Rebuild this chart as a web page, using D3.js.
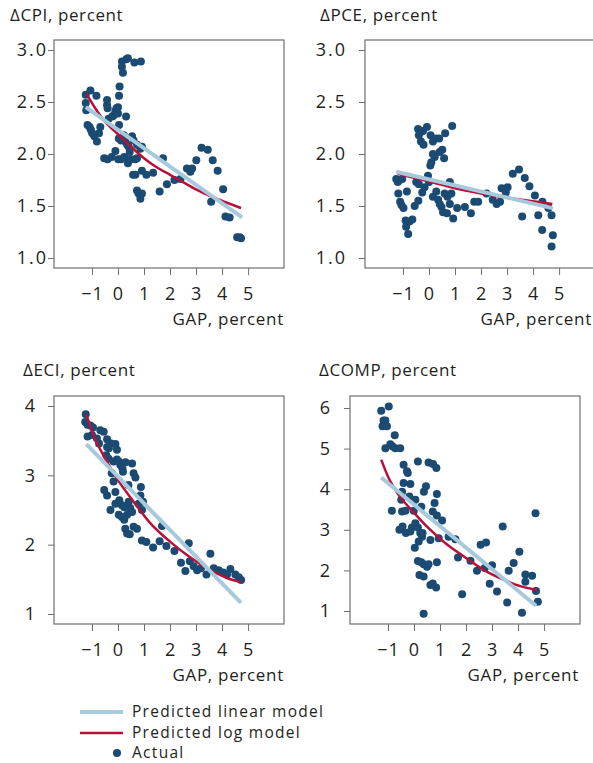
<!DOCTYPE html>
<html>
<head>
<meta charset="utf-8">
<script src="https://cdn.jsdelivr.net/npm/d3@7"></script>
<style>
  body { margin: 0; background: #fff; }
  svg text { font-family: "Open Sans", sans-serif; fill: #231f20; }
</style>
</head>
<body>
<div id="chart"></div>
<script>
// ---- data: [gap, value] ----
var gapTicks = [-1, 0, 1, 2, 3, 4, 5];

var cpiActual = [[0.15,2.89],[0.32,2.91],[0.38,2.92],[0.15,2.84],[0.19,2.78],[0.63,2.88],[0.88,2.89],
  [0.06,2.65],[0.04,2.56],[0,2.45],[0.31,2.36],[-1.24,2.57],[-1.24,2.49],[-1.22,2.42],[-1.06,2.61],[-0.83,2.56],
  [-1.17,2.28],[-1.09,2.26],[-1.04,2.23],[-0.99,2.2],[-0.91,2.17],[-0.81,2.12],[-0.73,2.2],[-0.68,2.26],
  [-0.42,2.52],[-0.42,2.47],[-0.4,2.44],[-0.36,2.34],[-0.22,2.36],[-0.17,2.37],[-0.1,2.41],[-0.06,2.44],[0,2.39],
  [0.04,2.28],[0.03,2.15],[0.12,2.13],[0.22,2.18],[0.28,2.12],[0.35,2.09],[0.41,2.07],[0.45,2.02],[0.54,2.17],
  [0.6,2.13],[0.73,2.09],[0.86,2.05],[0.92,2.07],[-0.53,1.96],[-0.4,1.95],[-0.24,1.97],[-0.1,2.03],[0.01,1.95],
  [0.12,1.95],[0.24,1.97],[0.38,1.91],[0.5,1.95],[0.67,1.95],[0.73,1.96],[0.58,1.8],[0.67,1.8],[0.92,1.84],
  [1.09,1.8],[1.35,1.82],[0.73,1.65],[0.79,1.62],[0.86,1.57],[0.92,1.62],[1.6,1.64],[1.88,1.71],[1.73,1.96],
  [2.17,1.75],[2.4,1.76],[2.65,1.86],[2.78,1.83],[2.85,1.86],[3.01,1.94],[3.21,2.06],[3.45,2.04],[3.64,1.94],
  [3.83,1.84],[3.58,1.54],[4.04,1.66],[4.13,1.4],[4.29,1.39],[4.58,1.2],[4.68,1.2],[4.73,1.19]];
var cpiLinear = [[-1.24,2.45],[4.77,1.39]];
var cpiLog = [[-1.22,2.58],[-0.9,2.45],[-0.5,2.31],[0,2.19],[0.5,2.07],[1,1.96],[1.5,1.87],[2,1.8],
  [2.5,1.73],[3,1.66],[3.5,1.6],[4,1.55],[4.73,1.48]];

var pceActual = [[-1.26,1.76],[-1.2,1.73],[-1.13,1.75],[-1.03,1.76],[-1.18,1.62],[-1.11,1.54],[-1.06,1.51],
  [-0.98,1.48],[-0.9,1.36],[-0.88,1.3],[-0.8,1.23],[-0.75,1.35],[-0.64,1.37],[-0.85,1.64],[-0.55,1.5],[-0.41,1.55],
  [-0.49,1.73],[-0.39,1.71],[-0.26,1.63],[-0.17,1.68],[-0.04,1.79],[0,1.73],[-0.42,2.24],[-0.33,2.21],[-0.23,2.22],
  [-0.08,2.26],[-0.39,2.18],[-0.31,2.12],[-0.21,2.09],[0.06,2.18],[0.15,2.12],[0.26,2.15],[0.39,2.15],[0.62,2.2],
  [0.89,2.27],[0.15,2.0],[0.22,1.97],[0.09,1.92],[0.05,1.89],[0.41,2.02],[0.51,2.04],[0.58,1.96],[0.15,1.59],
  [0.28,1.64],[0.35,1.56],[0.41,1.52],[0.48,1.49],[0.54,1.44],[0.69,1.43],[0.8,1.52],[0.71,1.59],[0.86,1.62],
  [0.93,1.38],[0.6,1.62],[0.8,1.73],[1.08,1.48],[1.38,1.49],[1.61,1.43],[1.74,1.54],[1.89,1.54],[2.21,1.62],
  [2.45,1.56],[2.6,1.52],[2.73,1.54],[2.79,1.67],[3.02,1.68],[2.95,1.63],[3.22,1.81],[3.46,1.85],[3.68,1.77],
  [3.86,1.69],[3.58,1.4],[4.07,1.6],[4.2,1.41],[4.35,1.27],[4.36,1.54],[4.59,1.48],[4.71,1.41],[4.76,1.22],[4.71,1.11]];
var pceLinear = [[-1.26,1.83],[4.74,1.48]];
var pceLog = [[-1.2,1.81],[0,1.735],[1,1.67],[2,1.62],[3,1.58],[4,1.545],[4.74,1.52]];

var eciActual = [[-1.24,3.88],[-1.26,3.77],[-1.17,3.73],[-1.06,3.72],[-0.96,3.69],[-1.17,3.56],[-1.0,3.58],
  [-0.81,3.53],[-0.68,3.65],[-0.55,3.63],[-0.42,3.52],[-0.73,3.46],[-0.42,3.41],[-0.35,3.39],[-0.27,3.46],
  [-0.1,3.45],[-0.04,3.37],[-0.45,3.29],[-0.36,3.24],[-0.17,3.2],[-0.04,3.23],[0.03,3.2],[0.09,3.15],[0.17,3.1],
  [0.19,3.05],[0.29,3.19],[0.54,3.17],[0.6,3.03],[0.67,2.97],[-0.24,3.03],[-0.17,2.91],[-0.1,2.76],[-0.53,2.79],
  [-0.42,2.71],[-0.29,2.5],[-0.1,2.59],[0.05,2.64],[0.15,2.57],[0.24,2.54],[0.03,2.43],[0.15,2.4],[0.24,2.36],
  [0.35,2.43],[0.41,2.62],[0.4,2.86],[0.47,2.53],[0.54,2.47],[0.28,2.23],[0.35,2.16],[0.45,2.15],[0.6,2.26],
  [0.73,2.23],[0.79,2.59],[0.86,2.71],[0.88,2.83],[0.92,2.5],[0.96,2.62],[0.92,2.06],[1.09,2.04],[1.35,1.96],
  [1.6,2.05],[1.69,2.27],[1.86,1.98],[2.17,1.91],[2.42,1.74],[2.59,1.62],[2.72,2.02],[2.76,1.76],[2.91,1.69],
  [3.04,1.63],[3.19,1.66],[3.4,1.57],[3.55,1.87],[3.68,1.66],[3.87,1.63],[4.04,1.6],[4.19,1.57],[4.32,1.65],
  [4.51,1.57],[4.64,1.53],[4.73,1.49]];
var eciLinear = [[-1.22,3.45],[4.73,1.16]];
var eciLog = [[-1.22,3.88],[-0.94,3.58],[-0.49,3.24],[0,2.93],[0.6,2.62],[1.24,2.31],[2.01,2.04],
  [2.65,1.85],[3.42,1.66],[4.19,1.52],[4.73,1.46]];

var compActual = [[-1.26,5.93],[-0.97,6.04],[-1.17,5.69],[-1.1,5.69],[-1.21,5.55],[-1.04,5.55],[-0.74,5.33],
  [-1.1,5.01],[-0.91,5.11],[-0.82,5.05],[-0.72,5.01],[-0.53,5.01],[-0.4,4.6],[-0.27,4.44],[-0.24,4.4],[-0.14,4.13],
  [-0.4,4.15],[0.15,4.68],[0.56,4.66],[0.73,4.62],[0.86,4.52],[0.46,4.07],[0.38,3.94],[0.88,3.88],[-0.46,3.94],
  [-0.49,3.74],[-0.18,3.82],[0.05,3.74],[0.28,3.57],[-0.85,3.47],[-0.46,3.45],[-0.33,3.47],[-0.01,3.47],[0.72,3.45],
  [0.79,3.66],[0.88,3.35],[1.08,3.23],[-0.56,3.0],[-0.44,3.08],[-0.31,2.92],[-0.14,2.96],[-0.08,3.06],[0.05,3.16],
  [0.15,3.06],[0.24,2.92],[0.31,2.83],[0.18,2.71],[0.03,2.56],[0.33,2.92],[0.63,2.75],[0.95,2.79],[1.33,2.83],
  [1.59,2.77],[0.15,2.23],[0.28,2.2],[0.37,2.15],[0.5,2.09],[0.56,2.15],[0.88,2.2],[0.21,1.89],[0.37,1.85],
  [0.63,1.64],[0.72,1.68],[0.85,1.58],[0.37,0.93],[1.69,2.32],[1.85,1.41],[2.17,2.24],[2.42,1.99],[2.56,2.63],
  [2.77,2.69],[2.72,2.06],[3.0,2.13],[2.91,1.67],[3.19,1.48],[3.41,3.08],[3.58,1.21],[3.64,1.99],[3.83,2.18],
  [4.05,2.46],[4.15,0.96],[4.28,1.9],[4.28,1.72],[4.54,1.87],[4.67,3.41],[4.69,1.49],[4.76,1.23]];
var compLinear = [[-1.26,4.29],[4.69,1.13]];
var compLog = [[-1.26,4.73],[-0.97,4.27],[-0.59,3.86],[-0.04,3.45],[0.56,3.04],[1.21,2.67],[1.97,2.32],
  [2.74,1.99],[3.38,1.79],[4.15,1.6],[4.73,1.52]];

var legendLabels = ["Predicted linear model", "Predicted log model", "Actual"];

// ---- layout ----
var colors = { dot: "#1b4a72", log: "#b8103b", linear: "#a7c9dc", frame: "#6d6e71" };
var boxW = 230, boxH = 228;

var panels = [
  { title: "\u0394CPI, percent", left: 54, top: 40, titleX: 10, titleY: 21, pad: 1, gapX: 284,
    yDomain: [0.904, 3.096], yTicks: [1.0, 1.5, 2.0, 2.5, 3.0], fmt: ".1f",
    actual: cpiActual, linear: cpiLinear, log: cpiLog },
  { title: "\u0394PCE, percent", left: 365, top: 40, titleX: 320, titleY: 21, pad: 13, gapX: 592,
    yDomain: [0.904, 3.096], yTicks: [1.0, 1.5, 2.0, 2.5, 3.0], fmt: ".1f",
    actual: pceActual, linear: pceLinear, log: pceLog },
  { title: "\u0394ECI, percent", left: 54, top: 396, titleX: 23, titleY: 376, pad: 12, gapX: 284,
    yDomain: [0.856, 4.144], yTicks: [1, 2, 3, 4], fmt: "d",
    actual: eciActual, linear: eciLinear, log: eciLog },
  { title: "\u0394COMP, percent", left: 350, top: 396, titleX: 319, titleY: 376, pad: 13, gapX: 579,
    yDomain: [0.68, 6.296], yTicks: [1, 2, 3, 4, 5, 6], fmt: "d",
    actual: compActual, linear: compLinear, log: compLog }
];

var svg = d3.select("#chart")
  .append("svg")
  .attr("width", 593)
  .attr("height", 763);

var x = d3.scaleLinear().domain([-2.46, 6.38]).range([0, boxW]);

panels.forEach(function (p) {
  var y = d3.scaleLinear().domain(p.yDomain).range([boxH, 0]);

  svg.append("text")
    .attr("x", p.titleX)
    .attr("y", p.titleY)
    .attr("font-size", "17px")
    .attr("letter-spacing", "0.6px")
    .text(p.title);

  var g = svg.append("g")
    .attr("transform", `translate(${p.left}, ${p.top})`);

  // y axis
  var yAxis = g.append("g")
    .call(d3.axisLeft(y).tickValues(p.yTicks).tickFormat(d3.format(p.fmt))
      .tickSize(6).tickPadding(p.pad - 1));
  yAxis.select(".domain").remove();
  yAxis.selectAll(".tick text").attr("letter-spacing", "2px");

  // x axis
  var xAxis = g.append("g")
    .attr("transform", `translate(0, ${boxH})`)
    .call(d3.axisBottom(x).tickValues(gapTicks).tickSize(7).tickPadding(12));
  xAxis.select(".domain").remove();
  xAxis.selectAll(".tick text").attr("letter-spacing", "1px");

  g.selectAll(".tick line").attr("stroke", colors.frame);
  g.selectAll(".tick text")
    .attr("font-size", "18px")
    .attr("font-family", "Open Sans, sans-serif")
    .attr("fill", "#231f20");

  // frame
  g.append("rect")
    .attr("width", boxW)
    .attr("height", boxH)
    .attr("fill", "none")
    .attr("stroke", colors.frame)
    .attr("stroke-width", 1.2);

  // actual points
  g.selectAll("circle")
    .data(p.actual)
    .enter()
    .append("circle")
    .attr("cx", d => x(d[0]))
    .attr("cy", d => y(d[1]))
    .attr("r", 4)
    .attr("fill", colors.dot);

  var line = d3.line()
    .x(d => x(d[0]))
    .y(d => y(d[1]))
    .curve(d3.curveMonotoneX);

  g.append("path")
    .datum(p.log)
    .attr("d", line)
    .attr("fill", "none")
    .attr("stroke", colors.log)
    .attr("stroke-width", 2.5);

  g.append("path")
    .datum(p.linear)
    .attr("d", line)
    .attr("fill", "none")
    .attr("stroke", colors.linear)
    .attr("stroke-width", 4);

  svg.append("text")
    .attr("x", p.gapX)
    .attr("y", p.top + boxH + 57)
    .attr("text-anchor", "end")
    .attr("font-size", "17px")
    .attr("letter-spacing", "0.7px")
    .text("GAP, percent");
});

// legend
var legend = svg.append("g").attr("transform", "translate(80, 712)");
var rowY = [0, 21, 41];

legend.append("line")
  .attr("x1", 0).attr("x2", 43).attr("y1", rowY[0]).attr("y2", rowY[0])
  .attr("stroke", colors.linear).attr("stroke-width", 4);
legend.append("line")
  .attr("x1", 0).attr("x2", 43).attr("y1", rowY[1]).attr("y2", rowY[1])
  .attr("stroke", colors.log).attr("stroke-width", 2.5);
legend.append("circle")
  .attr("cx", 37).attr("cy", rowY[2]).attr("r", 4).attr("fill", colors.dot);

legend.selectAll(".legendText")
  .data(legendLabels)
  .enter()
  .append("text")
  .attr("class", "legendText")
  .attr("x", 52)
  .attr("y", (d, i) => rowY[i])
  .attr("dy", "0.35em")
  .attr("font-size", "15.5px")
  .attr("letter-spacing", "1.3px")
  .text(d => d);
</script>
</body>
</html>
